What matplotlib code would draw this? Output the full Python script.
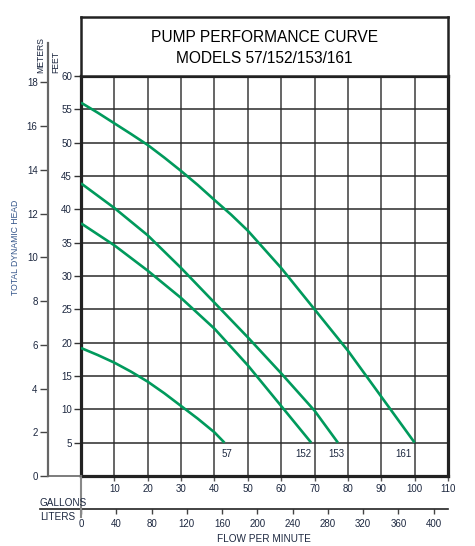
"""
Pump performance curve for models 57/152/153/161.
Head (feet, with a meters scale) against flow (gallons, with a liters scale).
"""

import matplotlib
matplotlib.use("Agg")
import matplotlib.pyplot as plt
from matplotlib.lines import Line2D

plt.rcParams['font.family'] = ['Liberation Sans', 'DejaVu Sans']

# data (flow in gallons/min, head in feet)
models = ["57", "152", "153", "161"]
flow_57 = [0, 5, 10, 15, 20, 25, 30, 35, 40, 43]
head_57 = [19.2, 18.15, 17.0, 15.65, 14.15, 12.4, 10.5, 8.6, 6.55, 5]
flow_152 = [0, 10, 20, 30, 40, 50, 60, 69]
head_152 = [37.9, 34.6, 30.8, 26.7, 22.1, 16.6, 10.5, 5]
flow_153 = [0, 10, 20, 30, 40, 50, 60, 70, 77]
head_153 = [43.9, 40.2, 36.1, 31.2, 26.0, 20.8, 15.4, 9.8, 5]
flow_161 = [0, 5, 10, 15, 20, 25, 30, 35, 40, 45, 50, 60, 70, 80, 90, 100]
head_161 = [56.0, 54.5, 52.9, 51.3, 49.65, 47.75, 45.75, 43.65, 41.4, 39.2, 36.8,
            31.2, 25.0, 18.8, 11.9, 5]
label_flow = [43.6, 66.8, 76.4, 96.6]

feet_ticks = list(range(5, 65, 5))
meter_ticks = list(range(0, 20, 2))
gallon_ticks = list(range(10, 120, 10))
liter_ticks = list(range(0, 440, 40))

FT_PER_M = 3.2808
L_PER_GAL = 3.785

W, H = 475, 546
GREEN = "#009a5c"
TXT = "#1d2840"


def fx(px):
    return px / W


def fy(py):
    return 1 - py / H


fig = plt.figure(figsize=(W / 100, H / 100), dpi=100)

# main chart
ax = fig.add_axes([fx(81), fy(476), (448 - 81) / W, (476 - 76) / H])
ax.set_xlim(0, 110)
ax.set_ylim(0, 60)
for g in gallon_ticks[:-1]:
    ax.axvline(g, color="#3c3c3c", lw=1.1, zorder=1)
for f in feet_ticks[:-1]:
    ax.axhline(f, color="#2a2a2a", lw=1.1, zorder=1)
for sp in ax.spines.values():
    sp.set_linewidth(2.3)
    sp.set_color("#222222")

ax.set_yticks(feet_ticks)
ax.set_yticklabels([str(v) for v in feet_ticks])
ax.set_xticks(gallon_ticks)
ax.set_xticklabels([str(v) for v in gallon_ticks])
ax.tick_params(axis="y", length=5, width=1.0, pad=1.5, labelsize=7, colors="#333333", labelcolor=TXT)
ax.tick_params(axis="x", length=3.5, width=1.0, pad=2.5, labelsize=7, colors="#555555", labelcolor=TXT)

for fl, hd in [(flow_57, head_57), (flow_152, head_152), (flow_153, head_153), (flow_161, head_161)]:
    ax.plot(fl, hd, color=GREEN, lw=1.9, zorder=3, solid_capstyle="butt", solid_joinstyle="round")
for name, lx in zip(models, label_flow):
    ax.text(lx, 3.3, name, ha="center", va="center", fontsize=7, color=TXT)

# title box
axt = fig.add_axes([fx(81), fy(76), (448 - 81) / W, (76 - 17) / H])
axt.set_xticks([])
axt.set_yticks([])
for sp in axt.spines.values():
    sp.set_linewidth(1.8)
    sp.set_color("#222222")
axt.text(0.5, 0.65, "PUMP PERFORMANCE CURVE", ha="center", va="center", fontsize=11.2, color="black")
axt.text(0.5, 0.29, "MODELS 57/152/153/161", ha="center", va="center", fontsize=11.2, color="black")

# meters scale
top_ft = (476 - 43) / (400 / 60)
axm = fig.add_axes([fx(48), fy(476), 0.0005, (476 - 43) / H])
axm.set_ylim(0, top_ft / FT_PER_M)
axm.set_xticks([])
axm.set_yticks(meter_ticks)
axm.set_yticklabels([str(v) for v in meter_ticks])
axm.tick_params(axis="y", length=5.5, width=1.0, pad=2, labelsize=7, colors="#444444", labelcolor=TXT)
for k in ["top", "right", "bottom"]:
    axm.spines[k].set_visible(False)
axm.spines["left"].set_linewidth(1.6)
axm.spines["left"].set_color("#666666")
axm.patch.set_alpha(0)

# liters scale
px_per_l = (367 / 110) / L_PER_GAL
axl = fig.add_axes([fx(40), fy(509), (448 - 40) / W, 0.0005])
axl.set_xlim(-(81 - 40) / px_per_l, (448 - 81) / px_per_l)
axl.set_yticks([])
axl.set_xticks(liter_ticks)
axl.set_xticklabels([str(v) for v in liter_ticks])
axl.tick_params(axis="x", length=3.5, width=1.0, pad=4, labelsize=7, colors="#444444", labelcolor=TXT)
for k in ["top", "right", "left"]:
    axl.spines[k].set_visible(False)
axl.spines["bottom"].set_linewidth(1.2)
axl.spines["bottom"].set_color("#222222")
axl.patch.set_alpha(0)

# connecting lines
fig.add_artist(Line2D([fx(81), fx(81)], [fy(476), fy(517)], color="#888888", lw=1.5))
fig.add_artist(Line2D([fx(48), fx(81)], [fy(476), fy(476)], color="#666666", lw=1.2))

# axis texts
fig.text(fx(16), fy(247), "TOTAL DYNAMIC HEAD", rotation=90, ha="center", va="center", fontsize=6.2, color="#34558a")
fig.text(fx(40.5), fy(73), "METERS", rotation=90, ha="center", va="bottom", fontsize=6.2, color=TXT)
fig.text(fx(56), fy(73), "FEET", rotation=90, ha="center", va="bottom", fontsize=6.2, color=TXT)
fig.text(fx(40), fy(502.7), "GALLONS", ha="left", va="center", fontsize=7.2, color=TXT)
fig.text(fx(40), fy(516.7), "LITERS", ha="left", va="center", fontsize=7.2, color=TXT)
fig.text(fx(264), fy(539), "FLOW PER MINUTE", ha="center", va="center", fontsize=7.2, color=TXT)

fig.savefig("out.png", dpi=100)
